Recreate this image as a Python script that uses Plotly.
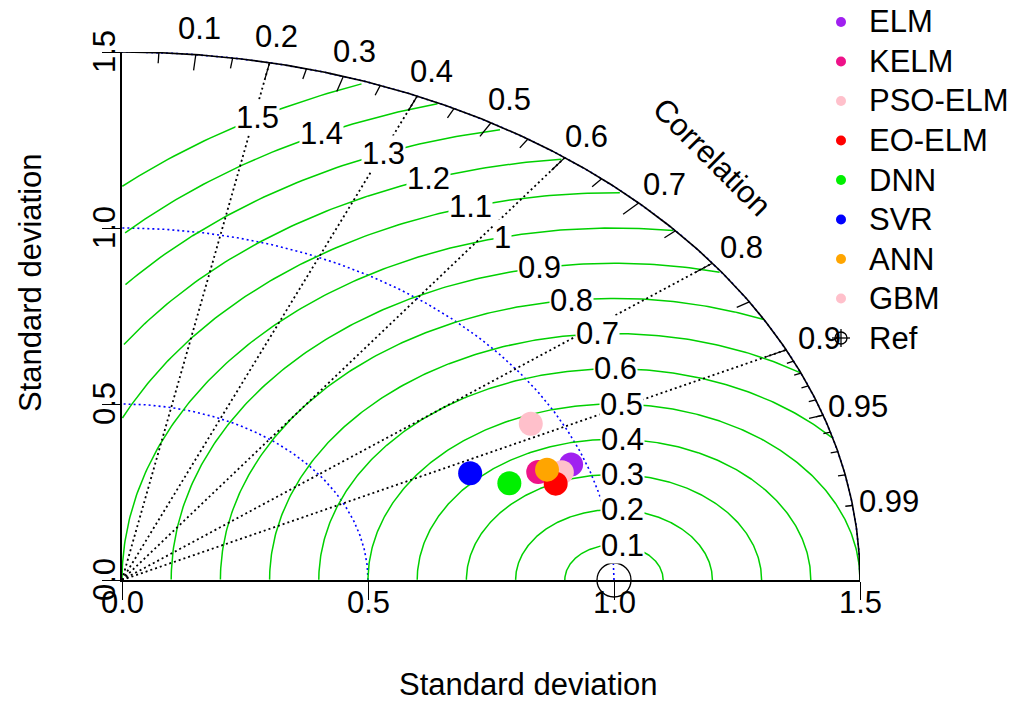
import numpy as np
import plotly.graph_objects as go

# ---------------- data ----------------
models = ["ELM", "KELM", "PSO-ELM", "EO-ELM", "DNN", "SVR", "ANN", "GBM"]
std_dev = [0.970, 0.900, 0.945, 0.923, 0.834, 0.770, 0.919, 0.942]
correlation = [0.941, 0.940, 0.946, 0.955, 0.944, 0.919, 0.940, 0.882]
model_colors = ["#A020F0", "#EE1289", "#FFC0CB", "#FF0000", "#00F000",
                "#0000FF", "#FFA500", "#FFC0CB"]

ref_sd = 1.0
max_sd = 1.5
sd_ticks = [0.0, 0.5, 1.0, 1.5]
sd_tick_labels = ["0.0", "0.5", "1.0", "1.5"]
sd_arcs = [0.5, 1.0, 1.5]
cor_label_values = [0.1, 0.2, 0.3, 0.4, 0.5, 0.6, 0.7, 0.8, 0.9, 0.95, 0.99]
cor_label_texts = ["0.1", "0.2", "0.3", "0.4", "0.5", "0.6", "0.7", "0.8", "0.9", "0.95", "0.99"]
cor_lines = [0.2, 0.4, 0.6, 0.8, 0.9]
gamma_values = [0.1, 0.2, 0.3, 0.4, 0.5, 0.6, 0.7, 0.8, 0.9, 1.0, 1.1, 1.2, 1.3, 1.4, 1.5]
gamma_texts = ["0.1", "0.2", "0.3", "0.4", "0.5", "0.6", "0.7", "0.8", "0.9", "1",
               "1.1", "1.2", "1.3", "1.4", "1.5"]
legend_labels = models + ["Ref"]

# label placement angles (radians) for RMSD contour labels
GAMMA_LABEL_THETA = [1.40, 1.48, 1.515, 1.53, 1.54, 1.567, 1.62, 1.68, 1.74, 1.80,
                     1.84, 1.89, 1.94, 2.01, 2.075]

FONT = "Liberation Sans, Arial, sans-serif"
FS = 31
GREEN = "#00D000"

# plot-area geometry in pixels (for paper-coordinate conversions of the legend)
L, R, T, B = 122, 860, 52, 580
W, H = R - L, B - T


def px2paper(px, py):
    return (px - L) / W, (B - py) / H


def d2p(x, y):
    # data -> paper (axes range [0, max_sd] span the full plot domain)
    return x / max_sd, y / max_sd


fig = go.Figure()

# standard deviation arcs (blue dotted)
for s in sd_arcs:
    th = np.linspace(0, np.pi / 2, 200)
    fig.add_trace(go.Scatter(x=s * np.cos(th), y=s * np.sin(th), mode="lines",
                             line=dict(color="blue", width=1.6, dash="2px,3px"),
                             showlegend=False, hoverinfo="skip"))

# RMSD contours (green)
for g in gamma_values:
    th = np.arange(0, np.pi, 0.01)
    xc = np.cos(th) * g + ref_sd
    yc = np.sin(th) * g
    ok = (xc >= 0) & (xc ** 2 + yc ** 2 <= max_sd ** 2)
    xs = np.where(ok, xc, np.nan)
    ys = np.where(ok, yc, np.nan)
    fig.add_trace(go.Scatter(x=xs, y=ys, mode="lines", connectgaps=False,
                             line=dict(color=GREEN, width=1.5),
                             showlegend=False, hoverinfo="skip"))

# correlation rays (black dotted)
for c in cor_lines:
    fig.add_trace(go.Scatter(x=[0, max_sd * c], y=[0, max_sd * np.sqrt(1 - c ** 2)],
                             mode="lines", line=dict(color="black", width=1.8, dash="2px,3px"),
                             showlegend=False, hoverinfo="skip"))

# outer arc
th = np.linspace(0, np.pi / 2, 300)
fig.add_trace(go.Scatter(x=max_sd * np.cos(th), y=max_sd * np.sin(th), mode="lines",
                         line=dict(color="black", width=1.6),
                         showlegend=False, hoverinfo="skip"))

# ticks on outer arc
tx, ty = [], []
for vals, frac in ((np.arange(1, 10) / 10, 0.97),
                   (np.arange(0.05, 0.96, 0.1), 0.98),
                   (np.arange(91, 100) / 100, 0.99)):
    for c in vals:
        a = np.arccos(c)
        tx += [max_sd * np.cos(a), frac * max_sd * np.cos(a), None]
        ty += [max_sd * np.sin(a), frac * max_sd * np.sin(a), None]
fig.add_trace(go.Scatter(x=tx, y=ty, mode="lines", line=dict(color="black", width=1.3),
                         showlegend=False, hoverinfo="skip"))

# reference point
fig.add_trace(go.Scatter(x=[ref_sd], y=[0], mode="markers", cliponaxis=False,
                         marker=dict(symbol="circle-open", size=34, color="black",
                                     line=dict(width=1.3, color="black")),
                         showlegend=False, hoverinfo="skip"))

# model points
sd_a = np.array(std_dev)
cor_a = np.array(correlation)
fig.add_trace(go.Scatter(x=sd_a * cor_a, y=sd_a * np.sqrt(1 - cor_a ** 2), mode="markers",
                         cliponaxis=False, text=models,
                         marker=dict(size=24, color=model_colors, line=dict(width=0)),
                         showlegend=False))

ann = []
shapes = []
txt_font = dict(family=FONT, size=FS, color="black")

# correlation labels
for c, t in zip(cor_label_values, cor_label_texts):
    a = np.arccos(c)
    x, y = d2p(1.05 * max_sd * np.cos(a), 1.05 * max_sd * np.sin(a))
    ann.append(dict(x=x, y=y, text=t, xref="paper", yref="paper", showarrow=False,
                    xanchor="center", yanchor="middle", font=txt_font))
x, y = d2p(0.8 * max_sd, 0.8 * max_sd)
ann.append(dict(x=x, y=y, text="Correlation", textangle=45, xref="paper", yref="paper",
                showarrow=False, xanchor="center", yanchor="middle", font=txt_font))
# gamma labels
for g, t, a in zip(gamma_values, gamma_texts, GAMMA_LABEL_THETA):
    x, y = d2p(ref_sd + g * np.cos(a), g * np.sin(a))
    ann.append(dict(x=x, y=y, text=t, xref="paper", yref="paper", showarrow=False,
                    bgcolor="white", borderpad=0, xanchor="center", yanchor="middle",
                    font=txt_font))
# axis tick labels
for v, t in zip(sd_ticks, sd_tick_labels):
    x, y = d2p(v, 0)
    ann.append(dict(x=x, y=y, text=t, xref="paper", yref="paper", showarrow=False,
                    yshift=-22, xanchor="center", yanchor="middle", font=txt_font))
    x, y = d2p(0, v)
    ann.append(dict(x=x, y=y, text=t, xref="paper", yref="paper", showarrow=False,
                    xshift=-18, textangle=-90, xanchor="center", yanchor="middle",
                    font=txt_font))
# axis titles
x, y = px2paper(528, 685)
ann.append(dict(x=x, y=y, xref="paper", yref="paper", text="Standard deviation",
                showarrow=False, xanchor="center", yanchor="middle", font=txt_font))
x, y = px2paper(30, 283)
ann.append(dict(x=x, y=y, xref="paper", yref="paper", text="Standard deviation",
                showarrow=False, textangle=-90, xanchor="center", yanchor="middle",
                font=txt_font))

# manual legend (top right)
leg_x_sym, leg_x_txt, leg_y0, leg_dy = 841, 867, 22, 39.5
for i, lab in enumerate(legend_labels):
    py = leg_y0 + i * leg_dy
    sx, sy = px2paper(leg_x_sym, py)
    tx_, ty_ = px2paper(leg_x_txt, py)
    ann.append(dict(x=tx_, y=ty_, xref="paper", yref="paper", text=lab, showarrow=False,
                    xanchor="left", yanchor="middle", font=txt_font))
    if lab != "Ref":
        col = model_colors[models.index(lab)]
        shapes.append(dict(type="circle", xref="paper", yref="paper",
                           xsizemode="pixel", ysizemode="pixel", xanchor=sx, yanchor=sy,
                           x0=-5, x1=5, y0=-5, y1=5, fillcolor=col, line=dict(width=0)))
    else:
        shapes.append(dict(type="circle", xref="paper", yref="paper",
                           xsizemode="pixel", ysizemode="pixel", xanchor=sx, yanchor=sy,
                           x0=-6, x1=6, y0=-6, y1=6, line=dict(color="black", width=1.3)))
        shapes.append(dict(type="line", xref="paper", yref="paper",
                           xsizemode="pixel", ysizemode="pixel", xanchor=sx, yanchor=sy,
                           x0=-9, x1=9, y0=0, y1=0, line=dict(color="black", width=1.3)))
        shapes.append(dict(type="line", xref="paper", yref="paper",
                           xsizemode="pixel", ysizemode="pixel", xanchor=sx, yanchor=sy,
                           x0=0, x1=0, y0=-9, y1=9, line=dict(color="black", width=1.3)))

axis_common = dict(range=[0, max_sd], showgrid=False, zeroline=False, showline=True,
                   linecolor="black", linewidth=1.5, ticks="outside", ticklen=18,
                   tickcolor="black", tickwidth=1.3, tickvals=sd_ticks,
                   showticklabels=False, fixedrange=True)

fig.update_layout(
    width=1028, height=706, autosize=False,
    margin=dict(l=L, r=1028 - R, t=T, b=706 - B, pad=0),
    paper_bgcolor="white", plot_bgcolor="white",
    xaxis=axis_common, yaxis=axis_common,
    annotations=ann, shapes=shapes,
    showlegend=False,
    font=txt_font,
)

fig.write_html("out.html")
